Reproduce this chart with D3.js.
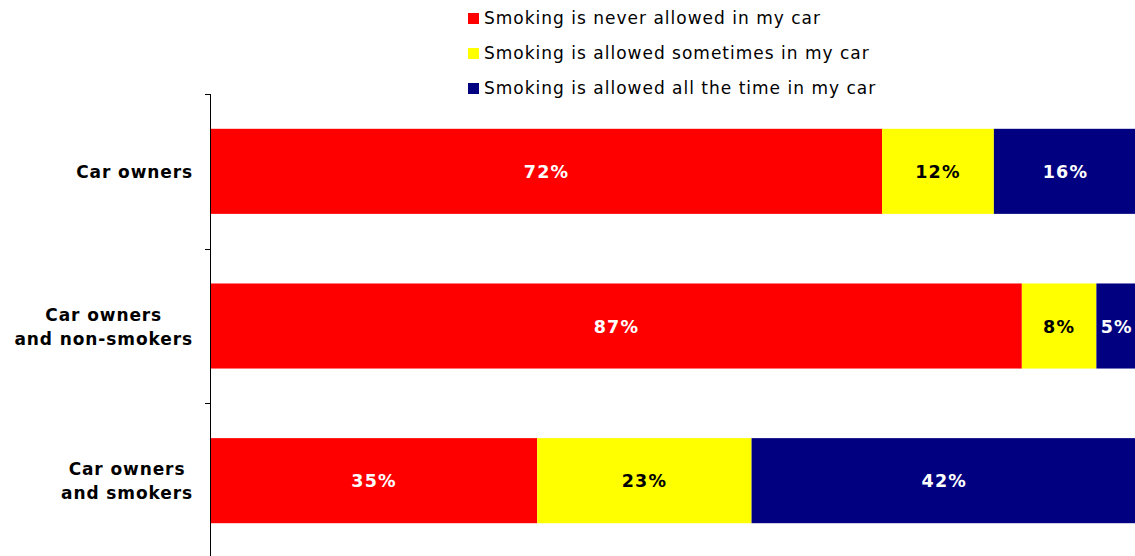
<!DOCTYPE html>
<html><head><meta charset="utf-8">
<script src="https://cdn.jsdelivr.net/npm/d3@7"></script>
<style>body{margin:0;background:#fff}svg{display:block}text{font-family:"DejaVu Sans",Verdana,sans-serif}</style>
</head><body>
<svg id="c" width="1135" height="556"></svg>
<script>
const categories = [["Car owners"], ["Car owners", "and non-smokers"], ["Car owners", "and smokers"]];
const seriesNames = ["Smoking is never allowed in my car", "Smoking is allowed sometimes in my car", "Smoking is allowed all the time in my car"];
const neverVals = [72, 87, 35];
const sometimesVals = [12, 8, 23];
const alwaysVals = [16, 5, 42];
const colors = ["#ff0000", "#ffff00", "#000080"];
const labelColors = ["#ffffff", "#000000", "#ffffff"];

const svg = d3.select("#c");
const series = [neverVals, sometimesVals, alwaysVals];
const ids = categories.map((c, i) => i);
const y = d3.scaleBand().domain(ids).range([94, 558]).paddingInner(0.45).paddingOuter(0.225);
const x = d3.scaleLinear().domain([0, 100]).range([211, 1143]);

const rows = ids.map(i => {
  let acc = 0;
  return series.map((s, k) => { const seg = {i, k, x0: acc, x1: acc + s[i], v: s[i]}; acc += s[i]; return seg; });
});

const g = svg.append("g");
rows.forEach(r => {
  g.selectAll(null).data(r).enter().append("rect")
    .attr("x", d => x(d.x0)).attr("width", d => x(d.x1) - x(d.x0))
    .attr("y", d => y(d.i)).attr("height", y.bandwidth())
    .attr("fill", d => colors[d.k]);
  g.selectAll(null).data(r).enter().append("text")
    .attr("x", d => Math.min((x(d.x0) + x(d.x1)) / 2, (x(d.x0) + 1135) / 2 + 1))
    .attr("y", d => y(d.i) + y.bandwidth() / 2 + 6.5)
    .attr("text-anchor", "middle").attr("font-size", 17.5).attr("font-weight", "bold")
    .attr("letter-spacing", 1.2)
    .attr("fill", d => labelColors[d.k]).text(d => d.v + "%");
});

// axis
svg.append("line").attr("x1", 210.5).attr("x2", 210.5).attr("y1", 94).attr("y2", 556).attr("stroke", "#000");
[0, 1, 2, 3].forEach(j => {
  const ty = Math.round(94 + j * (558 - 94) / 3) + 0.5;
  svg.append("line").attr("x1", 205).attr("x2", 210).attr("y1", ty).attr("y2", ty).attr("stroke", "#000");
});

// category labels
ids.forEach(i => {
  const lines = categories[i];
  const cy = y(i) + y.bandwidth() / 2;
  const lh = 24;
  const tg = svg.append("g");
  const ts = lines.map((l, j) => tg.append("text").attr("font-size", 17).attr("font-weight", "bold").attr("fill", "#000")
    .attr("letter-spacing", 0.9)
    .attr("y", cy + 6.5 + (j - (lines.length - 1) / 2) * lh).attr("text-anchor", "middle").text(l));
  const w = d3.max(ts, t => t.node().getComputedTextLength());
  ts.forEach(t => t.attr("x", 193 - w / 2));
});

// legend
seriesNames.forEach((n, k) => {
  const ly = 18 + k * 35;
  svg.append("rect").attr("x", 468).attr("y", ly - 5).attr("width", 11).attr("height", 11).attr("fill", colors[k]);
  svg.append("text").attr("x", 484).attr("y", ly + 5.5).attr("font-size", 17).attr("letter-spacing", 1)
    .attr("fill", "#000").text(n);
});
</script>
</body></html>
